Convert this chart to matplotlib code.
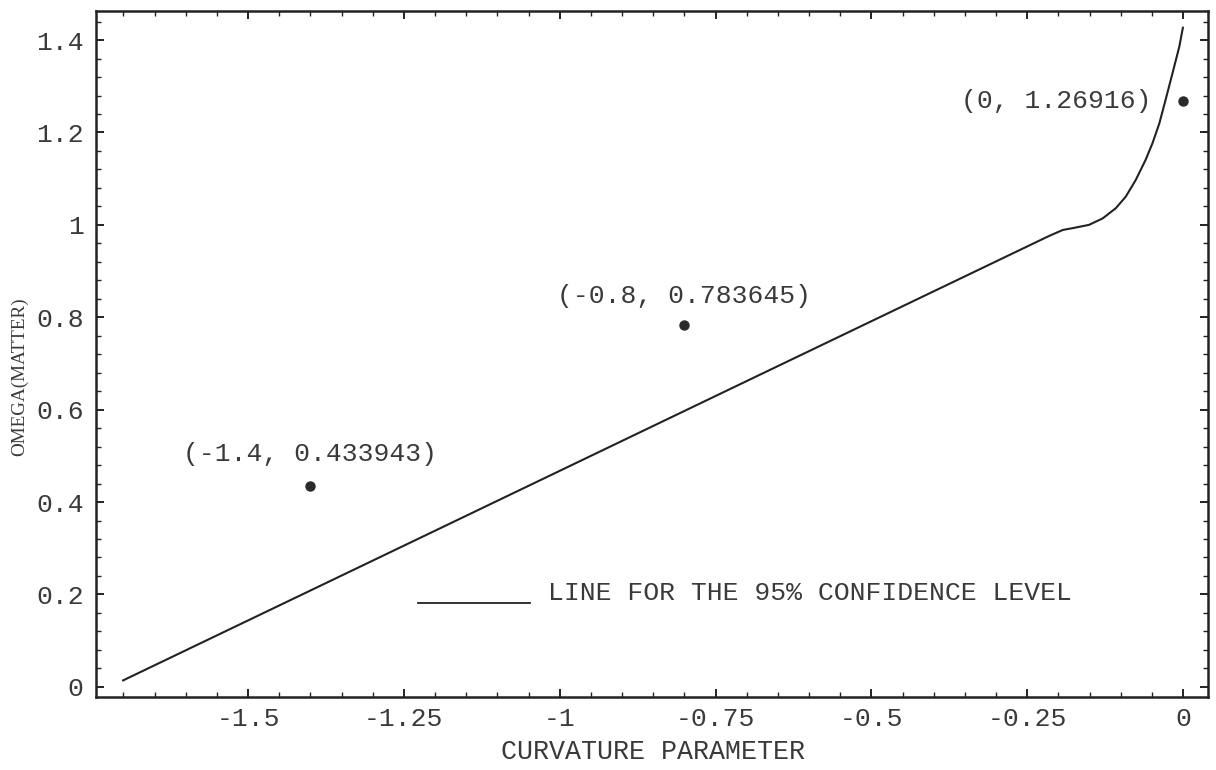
import matplotlib
matplotlib.use("Agg")
import matplotlib.pyplot as plt
from matplotlib.ticker import MultipleLocator, FixedLocator

# ---- data ----
curve_x = [-1.702, -1.20, -0.70, -0.215, -0.193, -0.177, -0.151, -0.129,
           -0.108, -0.092, -0.076, -0.060, -0.049, -0.038, -0.028, -0.017,
           -0.006, 0.000]
curve_y = [0.013, 0.338, 0.662, 0.976, 0.989, 0.993, 1.000, 1.014,
           1.036, 1.061, 1.097, 1.141, 1.177, 1.220, 1.271, 1.328,
           1.386, 1.429]

point_x = [-1.4, -0.8, 0.0]
point_y = [0.433943, 0.783645, 1.26916]
point_labels = ["(-1.4, 0.433943)", "(-0.8, 0.783645)", "(0, 1.26916)"]

xticks = [-1.5, -1.25, -1.0, -0.75, -0.5, -0.25, 0.0]
xticklabels = ["-1.5", "-1.25", "-1", "-0.75", "-0.5", "-0.25", "0"]
yticks = [0.0, 0.2, 0.4, 0.6, 0.8, 1.0, 1.2, 1.4]
yticklabels = ["0", "0.2", "0.4", "0.6", "0.8", "1", "1.2", "1.4"]

legend_text = "LINE FOR THE 95% CONFIDENCE LEVEL"
xlabel = "CURVATURE PARAMETER"
ylabel = "OMEGA(MATTER)"

# ---- drawing ----
MONO = ["Liberation Mono", "DejaVu Sans Mono"]
SERIF = ["Liberation Serif", "DejaVu Serif"]
TXT = "#3a3a3a"
INK = "#222222"
FS = 19

fig = plt.figure(figsize=(12.16, 7.70), dpi=100)
ax = fig.add_axes([96 / 1216, 1 - 697 / 770, (1208 - 96) / 1216, (697 - 11) / 770])

ax.plot(curve_x, curve_y, color=INK, lw=1.5, solid_capstyle="butt",
        solid_joinstyle="round")
ax.plot(point_x, point_y, "o", color="#2a2a2a", ms=6.5, ls="none")

offsets = [(0, 23), (0, 21), (-23, 0)]
haligns = ["center", "center", "right"]
for px, py, lab, off, ha in zip(point_x, point_y, point_labels, offsets, haligns):
    ax.annotate(lab, (px, py), xytext=off, textcoords="offset points",
                ha=ha, va="center", fontsize=FS, family=MONO, color=TXT)

# legend-like annotation
ax.plot([-1.2276, -1.048], [0.182, 0.182], color=INK, lw=1.3)
ax.text(-1.019, 0.203, legend_text, ha="left", va="center",
        fontsize=FS, family=MONO, color=TXT)

ax.set_xlim(-1.744, 0.040)
ax.set_ylim(-0.022, 1.463)

ax.xaxis.set_major_locator(FixedLocator(xticks))
ax.set_xticklabels(xticklabels)
ax.xaxis.set_minor_locator(MultipleLocator(0.05))
ax.yaxis.set_major_locator(FixedLocator(yticks))
ax.set_yticklabels(yticklabels)
ax.yaxis.set_minor_locator(MultipleLocator(0.04))

ax.tick_params(which="both", direction="in", top=True, right=True,
               color=INK)
ax.tick_params(which="major", length=6, width=1.4, labelsize=FS, pad=7,
               labelcolor=TXT)
ax.tick_params(which="minor", length=3.5, width=1.0)
for lab in ax.get_xticklabels() + ax.get_yticklabels():
    lab.set_family(MONO)
ax.tick_params(axis="y", pad=9)

for s in ax.spines.values():
    s.set_linewidth(1.8)
    s.set_color(INK)

fig.text(653 / 1216, 1 - 752 / 770, xlabel, ha="center", va="center",
         fontsize=19.2, family=MONO, color=TXT)
fig.text(20 / 1216, 1 - 377 / 770, ylabel, ha="center", va="center",
         rotation=90, fontsize=13.8, family=SERIF, color=TXT)

fig.savefig("out.png", dpi=100, facecolor="white")
